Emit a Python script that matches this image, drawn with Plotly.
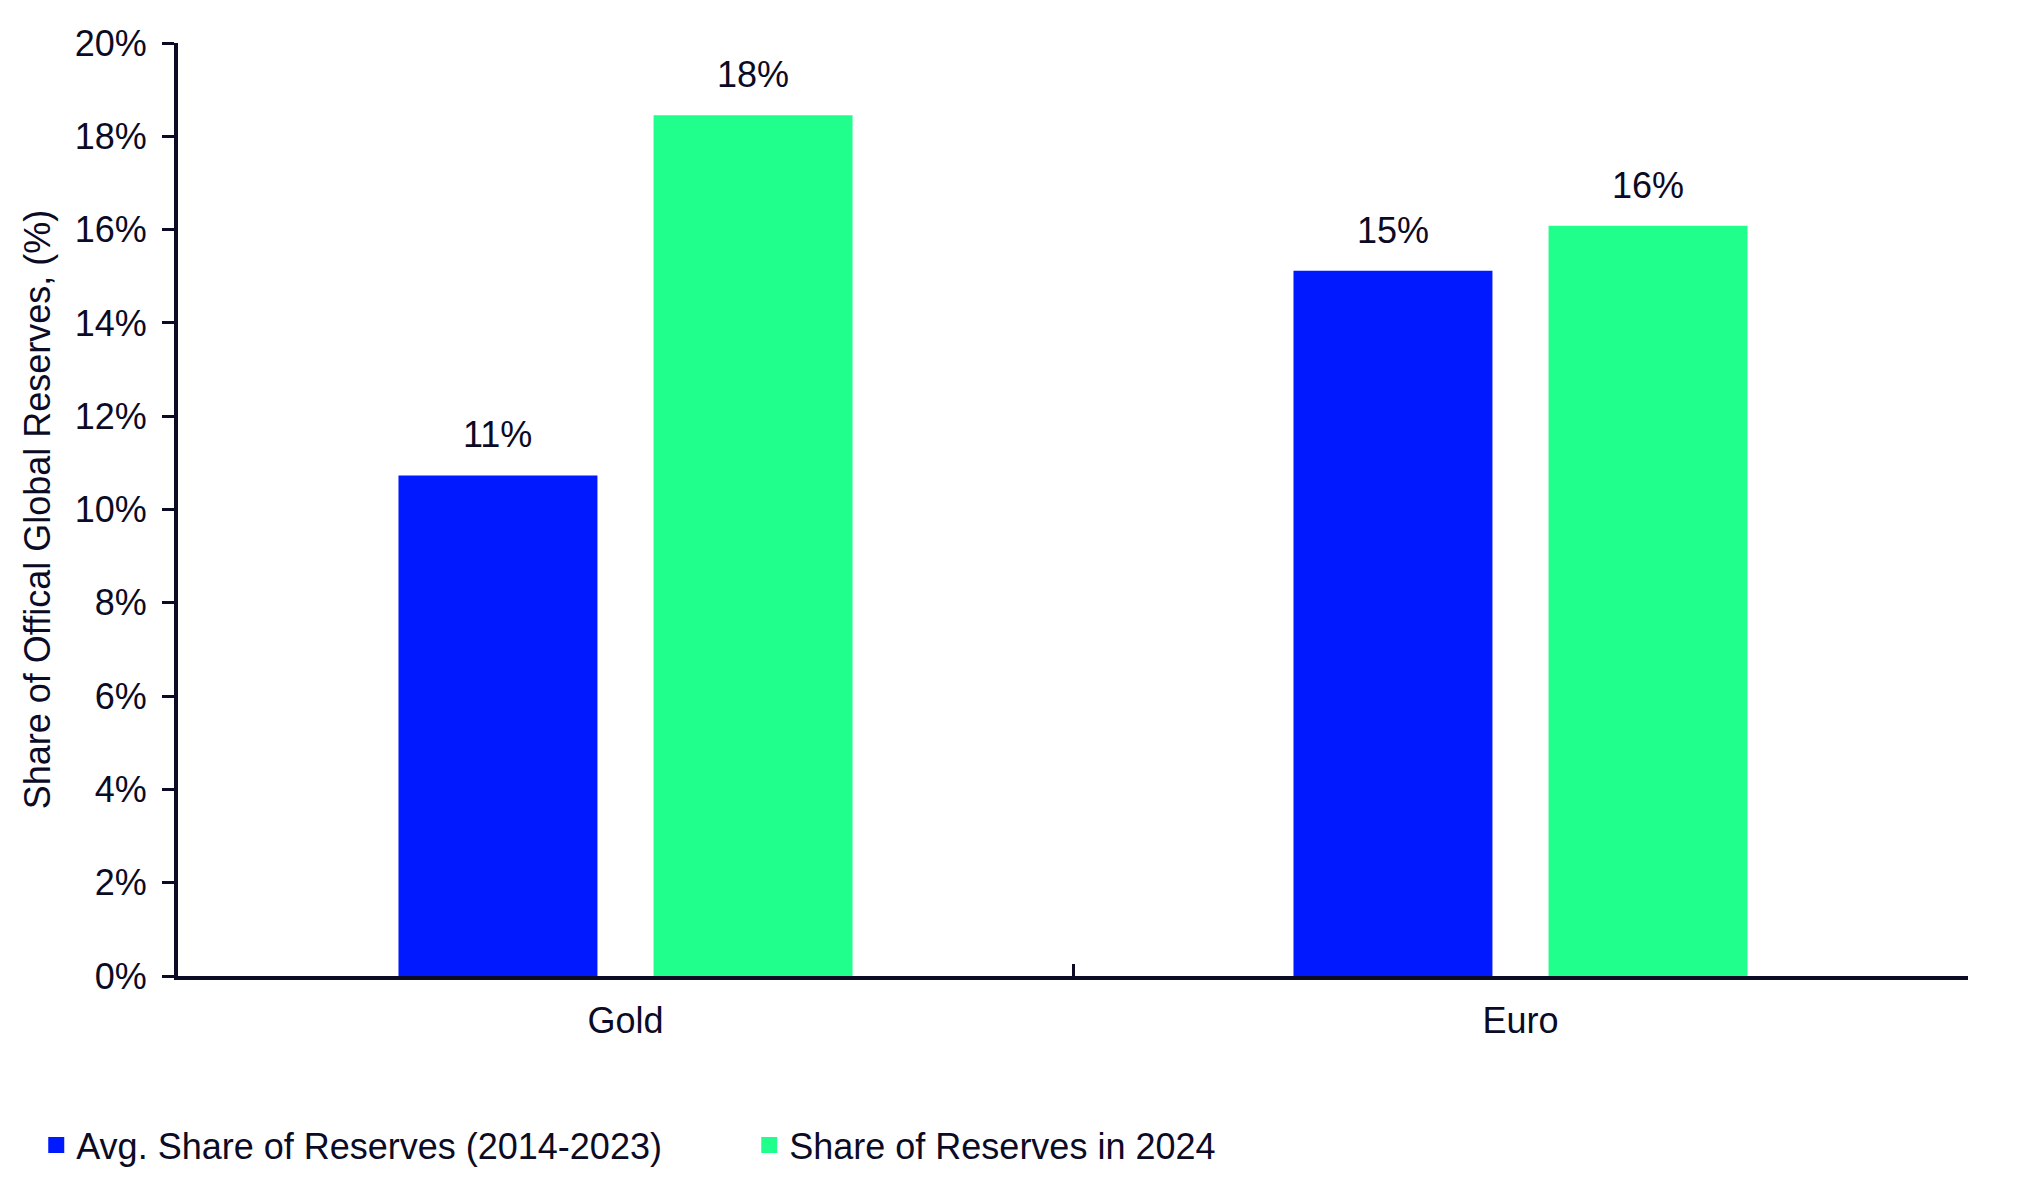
import plotly.graph_objects as go

categories = ["Gold", "Euro"]
avg_share = [10.73, 15.12]
share_2024 = [18.45, 16.08]
avg_labels = ["11%", "15%"]
labels_2024 = ["18%", "16%"]
series_names = ["Avg. Share of Reserves (2014-2023)", "Share of Reserves in 2024"]
series_colors = ["#0019ff", "#20ff8c"]
y_ticks = [0, 2, 4, 6, 8, 10, 12, 14, 16, 18, 20]
y_tick_text = [f"{v}%" for v in y_ticks]

ink = "#0b0b26"
font_family = "Liberation Sans, Arial, sans-serif"
bargap = 0.43
slot = (1 - bargap) / 2

fig = go.Figure()
for vals, name, col in zip([avg_share, share_2024], series_names, series_colors):
    fig.add_trace(go.Bar(
        x=categories, y=vals, name=name, showlegend=False,
        marker=dict(color=col, line=dict(width=0)),
    ))
# legend entries with larger square swatches
for name, col in zip(series_names, series_colors):
    fig.add_trace(go.Scatter(
        x=[None], y=[None], mode="markers", name=name,
        marker=dict(symbol="square", size=18, color=col),
        showlegend=True,
    ))

for i, (v, t) in enumerate(zip(avg_share, avg_labels)):
    fig.add_annotation(x=i - slot / 2, y=v, text=t, showarrow=False,
                       yanchor="bottom", yshift=18, font=dict(size=36, color=ink))
for i, (v, t) in enumerate(zip(share_2024, labels_2024)):
    fig.add_annotation(x=i + slot / 2, y=v, text=t, showarrow=False,
                       yanchor="bottom", yshift=18, font=dict(size=36, color=ink))

fig.update_layout(
    width=2018, height=1192,
    paper_bgcolor="white", plot_bgcolor="white",
    font=dict(family=font_family, color=ink, size=36),
    barmode="group", bargap=bargap, bargroupgap=0.22,
    margin=dict(l=170, r=58, t=35, b=224),
    showlegend=True,
    legend=dict(orientation="h", xref="container", x=0.014, xanchor="left",
                yref="container", y=0.046, yanchor="middle",
                font=dict(size=36, color=ink),
                traceorder="normal", itemwidth=30, entrywidth=668),
)
fig.update_xaxes(
    showline=True, linecolor=ink, linewidth=4,
    ticks="inside", ticklen=12, tickwidth=3, tickcolor=ink,
    tickson="boundaries", tickfont=dict(size=36, color=ink),
    ticklabelstandoff=10,
    showgrid=False, zeroline=False,
)
fig.update_yaxes(
    range=[0, 20], tickmode="array", tickvals=y_ticks, ticktext=y_tick_text,
    showline=True, linecolor=ink, linewidth=4,
    ticks="outside", ticklen=12, tickwidth=3, tickcolor=ink,
    tickfont=dict(size=36, color=ink), ticklabelstandoff=8,
    showgrid=False, zeroline=False,
    title=dict(text="Share of Offical Global Reserves, (%)", font=dict(size=36, color=ink), standoff=14),
)

fig.write_html("out.html")
